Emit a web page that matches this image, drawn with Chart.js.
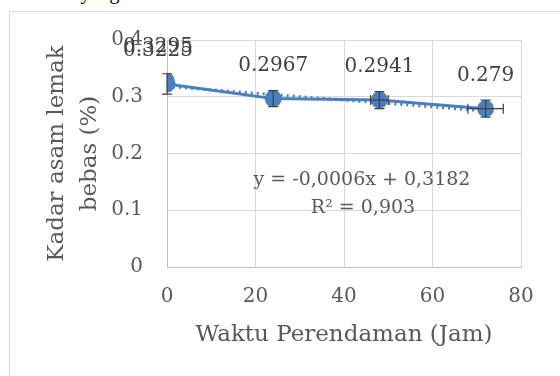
<!DOCTYPE html>
<html>
<head>
<meta charset="utf-8">
<script src="https://cdn.jsdelivr.net/npm/chart.js@4.4.1/dist/chart.umd.min.js"></script>
<style>
  body { margin: 0; background: #fff; width: 560px; height: 376px; overflow: hidden; position: relative; }
  .teks { position: absolute; left: 30px; top: -19px; font: 20px 'Liberation Serif', serif; color: #000; white-space: nowrap; }
  .bingkai { position: absolute; left: 9px; top: 11px; width: 620px; height: 420px; border: 1px solid #d9d9d9; background: #fff; }
  canvas { position: absolute; left: 0; top: 0; }
</style>
</head>
<body>
<div class="teks">sebab yang telah memenuhi standar</div>
<div class="bingkai"></div>
<canvas id="grafik" width="560" height="376"></canvas>
<script>
// data kadar asam lemak bebas
const waktu = [0, 24, 48, 72];
const kadar = [0.3225, 0.2967, 0.2941, 0.279];
const galatY = [0.018, 0.014, 0.015, 0.015];
const galatX = [0, 0, 2, 4];
// titik kedua pada jam ke-0
const waktu0 = [0];
const kadar0 = [0.3295];
// garis tren (persamaan dari grafik)
const kemiringan = -0.0006;
const intersep = 0.3182;
const trenX = [0, 72];
const xTicks = [0, 20, 40, 60, 80];
const yTicks = [0, 0.1, 0.2, 0.3, 0.4];

const biru = '#4a7ebf';
const huruf = "'DejaVu Serif', serif";

// error bar
const galatPlugin = {
    id: 'galat',
    afterDatasetsDraw(chart) {
        const c = chart.ctx, sx = chart.scales.x, sy = chart.scales.y;
        c.save();
        c.strokeStyle = '#404040';
        c.lineWidth = 1.2;
        waktu.forEach((w, i) => {
            const px = sx.getPixelForValue(w), py = sy.getPixelForValue(kadar[i]);
            const y1 = sy.getPixelForValue(kadar[i] + galatY[i]);
            const y2 = sy.getPixelForValue(kadar[i] - galatY[i]);
            c.beginPath();
            c.moveTo(px, y1); c.lineTo(px, y2);
            c.moveTo(px - 5, y1); c.lineTo(px + 5, y1);
            c.moveTo(px - 5, y2); c.lineTo(px + 5, y2);
            if (galatX[i] > 0) {
                const x1 = sx.getPixelForValue(w - galatX[i]);
                const x2 = sx.getPixelForValue(w + galatX[i]);
                c.moveTo(x1, py); c.lineTo(x2, py);
                c.moveTo(x1, py - 5); c.lineTo(x1, py + 5);
                c.moveTo(x2, py - 5); c.lineTo(x2, py + 5);
            }
            c.stroke();
        });
        c.restore();
    }
};

// label nilai dan persamaan
const labelPlugin = {
    id: 'label',
    afterDraw(chart) {
        const c = chart.ctx, sx = chart.scales.x, sy = chart.scales.y;
        c.save();
        c.font = '20px ' + huruf;
        c.fillStyle = '#404040';
        c.textAlign = 'center';
        c.textBaseline = 'middle';
        const tulis = (x, y, dx) => c.fillText(String(y), sx.getPixelForValue(x) + dx, sy.getPixelForValue(y) - 33);
        waktu0.forEach((w, i) => tulis(w, kadar0[i], -9));
        waktu.forEach((w, i) => tulis(w, kadar[i], i === 0 ? -9 : 0));
        c.font = '19px ' + huruf;
        c.fillStyle = '#595959';
        c.fillText('y = -0,0006x + 0,3182', 362, 180);
        c.fillText('R² = 0,903', 363, 208);
        c.restore();
    }
};

new Chart(document.getElementById('grafik'), {
    type: 'scatter',
    data: {
        datasets: [{
            label: 'Tren',
            data: trenX.map(x => ({ x: x, y: kemiringan * x + intersep })),
            showLine: true,
            borderColor: biru,
            borderWidth: 3,
            borderDash: [2, 4],
            pointRadius: 0
        }, {
            label: 'Kadar',
            data: waktu.map((w, i) => ({ x: w, y: kadar[i] })),
            showLine: true,
            borderColor: biru,
            backgroundColor: biru,
            borderWidth: 3,
            pointRadius: 7
        }, {
            label: 'Kadar 0',
            data: waktu0.map((w, i) => ({ x: w, y: kadar0[i] })),
            borderColor: biru,
            backgroundColor: biru,
            pointRadius: 7
        }]
    },
    options: {
        responsive: false,
        animation: false,
        layout: { padding: { top: 40, right: 39, left: 0, bottom: 0 } },
        plugins: { legend: { display: false }, tooltip: { enabled: false } },
        scales: {
            x: {
                type: 'linear',
                min: 0, max: 80,
                afterBuildTicks: s => { s.ticks = xTicks.map(v => ({ value: v })); },
                afterFit: s => { s.height = 109; },
                grid: { color: '#d9d9d9', drawTicks: false },
                border: { color: '#bfbfbf' },
                ticks: { color: '#595959', font: { family: huruf, size: 20 }, padding: 18 },
                title: {
                    display: true,
                    text: 'Waktu Perendaman (Jam)',
                    color: '#595959',
                    font: { family: huruf, size: 23 },
                    padding: { top: 0, bottom: 27 }
                }
            },
            y: {
                min: 0, max: 0.4,
                afterBuildTicks: s => { s.ticks = yTicks.map(v => ({ value: v })); },
                afterFit: s => { s.width = 167; },
                grid: { color: '#d9d9d9', drawTicks: false },
                border: { color: '#bfbfbf' },
                ticks: { color: '#595959', font: { family: huruf, size: 20 }, padding: 24, callback: v => String(v) },
                title: {
                    display: true,
                    text: ['Kadar asam lemak', 'bebas (%)'],
                    color: '#595959',
                    font: { family: huruf, size: 23, lineHeight: 1.43 },
                    padding: { top: 41, bottom: 0 }
                }
            }
        }
    },
    plugins: [galatPlugin, labelPlugin]
});
</script>
</body>
</html>
